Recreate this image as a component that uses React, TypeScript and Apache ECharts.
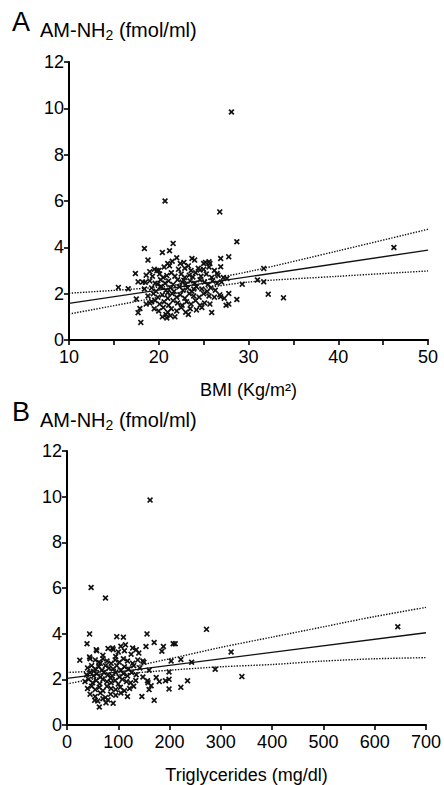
import React, { useEffect, useRef } from "react";
import * as echarts from "echarts";

// Panel A: BMI (kg/m2) vs AM-NH2 (fmol/ml)
const bmiTicksLabel = [10, 20, 30, 40, 50];
const amTicks = [0, 2, 4, 6, 8, 10, 12];

const scatterA: number[][] = [
  [28.1, 9.84], [20.7, 6.0], [26.8, 5.53], [28.7, 4.24], [46.2, 3.99], [18.4, 3.95],
  [21.6, 4.17], [20.4, 3.78], [21.2, 3.85], [27.8, 3.59], [26.9, 3.52], [23.7, 3.52],
  [22.4, 3.3], [31.7, 3.09], [18.8, 3.45], [17.4, 2.87], [19.8, 3.0], [32.2, 1.98],
  [33.9, 1.82], [28.7, 1.75], [27.8, 2.01], [27.8, 1.55], [25.9, 1.19], [18.0, 0.76],
  [17.9, 1.36], [17.7, 1.18], [17.5, 1.77], [16.6, 2.21], [15.5, 2.27], [29.3, 2.41],
  [31.0, 2.59], [31.7, 2.51], [17.7, 2.51], [18.5, 2.49], [19.2, 1.65], [26.9, 1.87],
  [26.9, 3.16], [26.5, 2.87], [27.6, 2.66], [25.0, 3.3], [25.6, 3.38], [24.6, 3.02],
  [20.2, 2.3],
  [21.5, 3.4], [22.0, 3.55], [22.8, 3.35], [24.0, 3.45], [25.2, 3.35], [25.7, 3.3], [21.0, 3.3], [23.3, 3.2],
  [19.5, 3.05], [20.0, 3.0], [20.6, 3.15], [21.2, 3.2], [22.2, 3.05], [22.9, 3.1], [23.6, 3.0], [24.4, 3.1],
  [25.0, 3.05], [25.6, 3.15], [26.2, 3.0], [19.0, 2.95],
  [18.6, 2.8], [19.3, 2.75], [20.1, 2.85], [20.5, 2.7], [21.4, 2.9], [21.8, 2.75], [22.5, 2.85], [22.9, 2.7],
  [23.4, 2.8], [24.1, 2.9], [24.7, 2.75], [25.3, 2.85], [25.9, 2.7], [26.6, 2.8], [27.2, 2.7], [20.9, 2.78], [23.8, 2.72],
  [18.2, 2.5], [19.0, 2.55], [19.6, 2.45], [20.2, 2.6], [20.7, 2.45], [21.1, 2.55], [21.6, 2.4], [22.1, 2.6],
  [22.6, 2.5], [23.0, 2.4], [23.5, 2.55], [24.0, 2.45], [24.6, 2.6], [25.1, 2.5], [25.5, 2.4], [26.0, 2.55],
  [26.5, 2.45], [27.0, 2.5], [19.9, 2.42], [22.8, 2.58],
  [18.4, 2.2], [19.2, 2.25], [19.7, 2.1], [20.3, 2.3], [20.8, 2.15], [21.3, 2.25], [21.7, 2.1], [22.3, 2.3],
  [22.7, 2.15], [23.2, 2.25], [23.7, 2.1], [24.2, 2.3], [24.8, 2.2], [25.4, 2.1], [25.8, 2.25], [26.3, 2.15],
  [21.0, 2.05], [23.9, 2.2],
  [18.8, 1.9], [19.4, 2.0], [19.9, 1.85], [20.4, 1.95], [21.0, 1.8], [21.5, 2.0], [22.0, 1.85], [22.4, 1.95],
  [22.9, 1.8], [23.4, 2.0], [23.9, 1.9], [24.5, 1.85], [25.0, 2.0], [25.6, 1.9], [26.2, 1.85], [26.8, 1.95], [27.3, 1.8],
  [19.0, 1.6], [19.6, 1.7], [20.1, 1.55], [20.6, 1.65], [21.1, 1.5], [21.6, 1.7], [22.1, 1.6], [22.6, 1.5],
  [23.1, 1.65], [23.6, 1.55], [24.1, 1.7], [24.6, 1.5], [25.1, 1.6], [25.7, 1.55], [27.5, 1.5], [18.6, 1.55],
  [19.5, 1.35], [20.0, 1.25], [20.5, 1.4], [21.0, 1.2], [21.4, 1.35], [22.0, 1.25], [22.5, 1.4], [23.0, 1.2],
  [23.5, 1.35], [24.2, 1.3], [24.8, 1.4], [20.8, 1.1],
  [20.4, 1.0], [20.9, 0.95], [21.3, 1.05], [21.8, 1.0], [23.3, 1.1],
];
const fitA: number[][] = [[10, 1.58], [50, 3.88]];
const upperA: number[][] = [[10, 2.02], [20, 2.28], [23, 2.45], [30, 2.95], [40, 3.85], [50, 4.78]];
const lowerA: number[][] = [[10, 1.12], [20, 1.85], [23, 2.1], [30, 2.5], [40, 2.75], [50, 2.98]];

// Panel B: Triglycerides (mg/dl) vs AM-NH2 (fmol/ml)
const scatterB: number[][] = [
  [162, 9.85], [47, 6.02], [75, 5.56], [645, 4.3], [272, 4.19], [320, 3.2], [341, 2.12], [289, 2.44],
  [156, 3.99], [44, 3.99], [39, 3.56], [25, 2.84], [44, 2.98], [97, 3.87], [110, 3.84], [170, 3.61],
  [154, 3.44], [188, 3.44], [185, 3.23], [207, 3.56], [211, 3.56], [222, 2.87], [243, 2.75], [203, 2.8],
  [199, 2.32], [199, 2.0], [199, 1.58], [222, 1.65], [235, 1.94], [170, 1.08], [146, 1.25], [174, 2.08],
  [192, 1.94], [63, 0.79], [76, 0.97], [54, 1.08], [135, 3.3], [128, 3.37], [148, 2.8], [114, 3.51],
  [89, 3.37], [57, 3.3], [157, 1.94], [164, 1.72],
  [80, 3.35], [90, 3.3], [100, 3.2], [112, 3.25], [125, 3.1], [140, 3.15], [70, 3.05], [58, 3.25], [105, 3.45], [95, 3.0],
  [45, 2.9], [55, 2.85], [62, 2.75], [70, 2.9], [78, 2.8], [86, 2.7], [94, 2.85], [102, 2.75], [110, 2.9], [118, 2.8],
  [128, 2.7], [138, 2.85], [150, 2.75], [65, 2.7],
  [40, 2.5], [48, 2.6], [55, 2.45], [62, 2.55], [68, 2.4], [75, 2.6], [82, 2.5], [90, 2.45], [97, 2.6], [105, 2.4],
  [112, 2.55], [120, 2.45], [130, 2.6], [142, 2.5], [160, 2.4], [52, 2.35],
  [38, 2.2], [45, 2.3], [52, 2.15], [58, 2.25], [65, 2.1], [72, 2.3], [80, 2.2], [88, 2.15], [95, 2.3], [102, 2.1],
  [110, 2.25], [118, 2.15], [126, 2.3], [135, 2.2], [148, 2.1], [85, 2.05],
  [35, 1.9], [42, 2.0], [50, 1.85], [57, 1.95], [64, 1.8], [70, 2.0], [78, 1.9], [86, 1.85], [94, 1.95], [100, 1.8],
  [108, 2.0], [116, 1.9], [124, 1.85], [134, 1.95], [158, 1.85], [180, 1.9],
  [40, 1.6], [48, 1.7], [55, 1.55], [63, 1.65], [70, 1.5], [78, 1.7], [86, 1.6], [95, 1.55], [104, 1.65], [112, 1.5],
  [122, 1.6], [160, 1.55], [130, 1.7],
  [45, 1.35], [55, 1.25], [65, 1.4], [75, 1.2], [85, 1.35], [95, 1.3], [105, 1.4], [118, 1.25], [70, 1.15],
  [60, 1.05], [80, 1.1], [90, 0.95],
];
const fitB: number[][] = [[0, 2.04], [700, 4.04]];
const upperB: number[][] = [[0, 2.3], [100, 2.45], [200, 2.9], [300, 3.4], [400, 3.85], [500, 4.3], [600, 4.75], [700, 5.15]];
const lowerB: number[][] = [[0, 1.8], [100, 2.2], [200, 2.4], [300, 2.55], [400, 2.65], [500, 2.8], [600, 2.9], [700, 2.95]];

const FONT = "Liberation Sans, Arial, Helvetica, sans-serif";
const CROSS = "path://M0,2L2,0L5,3L8,0L10,2L7,5L10,8L8,10L5,7L2,10L0,8L3,5Z";

export default function App() {
  const ref = useRef<HTMLDivElement>(null);
  useEffect(() => {
    if (!ref.current) return;
    const chart = echarts.init(ref.current, undefined, { renderer: "svg" });
    const axisLine = { show: true, lineStyle: { color: "#000", width: 2 } };
    const axisTick = { show: true, inside: false, length: 5, lineStyle: { color: "#000", width: 1.6 } };
    const labelStyle = { color: "#000", fontSize: 18, fontFamily: FONT, lineHeight: 14 };
    const yAxisCommon = {
      type: "value" as const,
      min: 0,
      max: 12,
      interval: 2,
      splitLine: { show: false },
      axisLine,
      axisTick,
      axisLabel: { ...labelStyle, margin: 5 },
    };
    const lineSeries = (data: number[][], idx: number, dotted: boolean) => ({
      type: "line",
      xAxisIndex: idx,
      yAxisIndex: idx,
      data,
      showSymbol: false,
      symbol: "none",
      smooth: dotted ? 0.3 : false,
      lineStyle: { color: "#111", width: 1.4, type: dotted ? "dotted" : "solid" },
      z: 3,
    });
    const scatter = (data: number[][], idx: number) => ({
      type: "scatter",
      xAxisIndex: idx,
      yAxisIndex: idx,
      data,
      symbol: CROSS,
      symbolSize: 6,
      itemStyle: { color: "#111", opacity: 1 },
      z: 4,
    });
    const titleText = (x: number, y: number, letter: string) => [
      {
        type: "text",
        left: x,
        top: y,
        style: { text: letter, fontSize: 27, fontFamily: FONT, fill: "#000" },
      },
      {
        type: "text",
        left: x + 28,
        top: y + 12,
        style: {
          text: "{a|AM-NH}{s|2}{a| (fmol/ml)}",
          fontFamily: FONT,
          fill: "#000",
          rich: {
            a: { fontSize: 20, fontFamily: FONT, fill: "#000", color: "#000" },
            s: { fontSize: 14, fontFamily: FONT, fill: "#000", color: "#000", padding: [10, 0, 0, 0] },
          },
        },
      },
    ];
    const nameStyle = { color: "#000", fontSize: 18, fontFamily: FONT };
    chart.setOption({
      animation: false,
      backgroundColor: "#fff",
      grid: [
        { left: 69, right: 16, top: 62, height: 278 },
        { left: 67, right: 16, top: 451, height: 279 },
      ],
      xAxis: [
        {
          type: "value",
          gridIndex: 0,
          min: 10,
          max: 50,
          interval: 5,
          splitLine: { show: false },
          axisLine,
          axisTick,
          axisLabel: {
            ...labelStyle,
            margin: 10,
            formatter: (v: number) => (bmiTicksLabel.includes(v) ? String(v) : ""),
          },
          name: "BMI (Kg/m²)",
          nameLocation: "middle",
          nameGap: 41,
          nameTextStyle: nameStyle,
        },
        {
          type: "value",
          gridIndex: 1,
          min: 0,
          max: 700,
          interval: 100,
          splitLine: { show: false },
          axisLine,
          axisTick,
          axisLabel: { ...labelStyle, margin: 10 },
          name: "Triglycerides (mg/dl)",
          nameLocation: "middle",
          nameGap: 41,
          nameTextStyle: nameStyle,
        },
      ],
      yAxis: [
        { ...yAxisCommon, gridIndex: 0, axisLabel: { ...labelStyle, margin: 5, formatter: (v: number) => (amTicks.includes(v) ? String(v) : "") } },
        { ...yAxisCommon, gridIndex: 1 },
      ],
      graphic: [...titleText(12, 8, "A"), ...titleText(12, 398, "B")],
      series: [
        scatter(scatterA, 0),
        lineSeries(fitA, 0, false),
        lineSeries(upperA, 0, true),
        lineSeries(lowerA, 0, true),
        scatter(scatterB, 1),
        lineSeries(fitB, 1, false),
        lineSeries(upperB, 1, true),
        lineSeries(lowerB, 1, true),
      ],
    });
    return () => chart.dispose();
  }, []);
  return <div ref={ref} style={{ position: "fixed", left: 0, top: 0, width: 444, height: 785 }} />;
}
